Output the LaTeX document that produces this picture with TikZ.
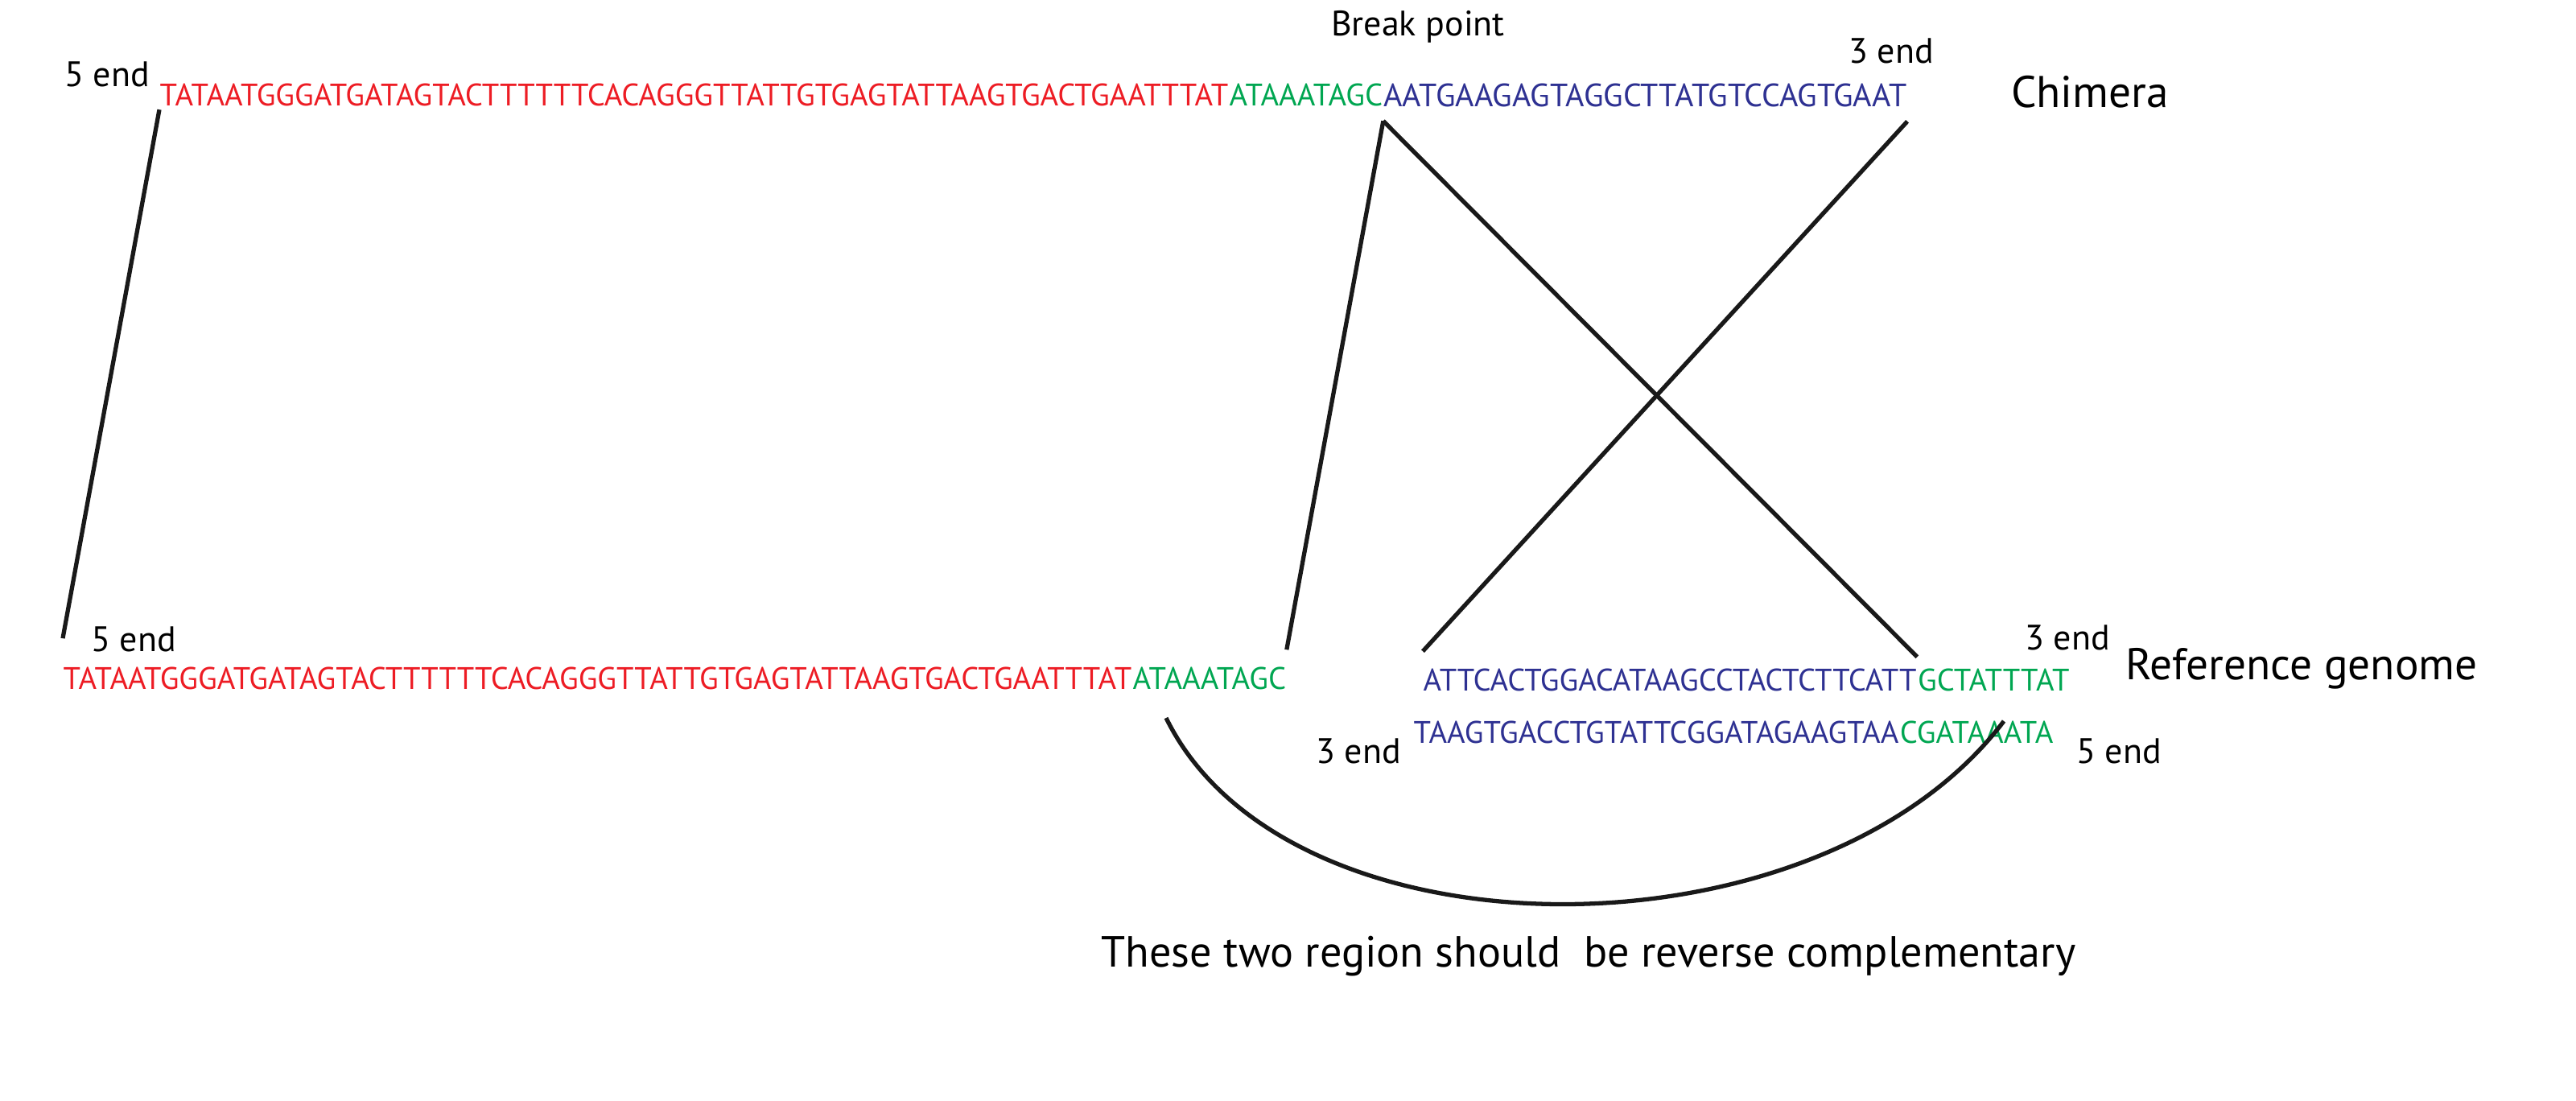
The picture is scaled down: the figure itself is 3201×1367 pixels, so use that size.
\documentclass[tikz,border=0pt]{standalone}
\usepackage{fontspec}
\setmainfont{PT Sans}
\usetikzlibrary{positioning}

\definecolor{seqred}{RGB}{237,28,36}
\definecolor{seqgreen}{RGB}{0,166,81}
\definecolor{seqblue}{RGB}{46,49,146}

\begin{document}
\begin{tikzpicture}[
        x=0.01cm, y=-0.01cm,
        seq/.style={inner sep=0pt, anchor=west, font=\fontsize{11}{13}\selectfont},
        endlbl/.style={inner sep=0pt, font=\fontsize{12.5}{14}\selectfont},
        title/.style={inner sep=0pt, font=\fontsize{15.7}{18}\selectfont},
        link/.style={line width=1.5pt, draw=black!90}
    ]
        \useasboundingbox (0,0) rectangle (3201,1367);
        % Chimera read
        \node[seq, text=seqred] (chimred) at (198,118) {TATAATGGGATGATAGTACTTTTTTCACAGGGTTATTGTGAGTATTAAGTGACTGAATTTAT};
        \node[seq, text=seqgreen, right=0pt of chimred] (chimgreen) {ATAAATAGC};
        \node[seq, text=seqblue, right=0pt of chimgreen, font=\fontsize{11.4}{13}\selectfont] (chimblue) {AATGAAGAGTAGGCTTATGTCCAGTGAAT};
        \node[endlbl] (chim5) at (133,92) {5 end};
        \node[endlbl] (chim3) at (2350,63) {3 end};
        \node[endlbl] (brk) at (1762,33) {Break point};
        \node[title] (chimtitle) at (2597,114) {Chimera};
        % Reference genome
        \node[seq, text=seqred] (refred) at (78,843) {TATAATGGGATGATAGTACTTTTTTCACAGGGTTATTGTGAGTATTAAGTGACTGAATTTAT};
        \node[seq, text=seqgreen, right=0pt of refred] (refgreen) {ATAAATAGC};
        \node[seq, text=seqblue] (fwdblue) at (1768,845) {ATTCACTGGACATAAGCCTACTCTTCATT};
        \node[seq, text=seqgreen, right=0pt of fwdblue] (fwdgreen) {GCTATTTAT};
        \node[seq, text=seqblue] (revblue) at (1756,910) {TAAGTGACCTGTATTCGGATAGAAGTAA};
        \node[seq, text=seqgreen, right=0pt of revblue] (revgreen) {CGATAAATA};
        \node[endlbl] (ref5) at (166,794) {5 end};
        \node[endlbl] (fwd3) at (2569,792) {3 end};
        \node[endlbl] (rev3) at (1688,933) {3 end};
        \node[endlbl] (rev5) at (2633,933) {5 end};
        \node[title] (reftitle) at (2860,831) {Reference genome};
        \node[title, font=\fontsize{15.4}{18}\selectfont] (note) at (1974,1188) {These two region should\ \ be reverse complementary};
        % Alignment lines
        \draw[link] ([yshift=-1pt]chimred.south west) -- ([yshift=10pt]refred.north west);
        \draw[link] ([yshift=-5pt]chimgreen.south east) -- ([yshift=6pt]refgreen.north east);
        \draw[link] ([yshift=-5pt]chimgreen.south east) -- ([yshift=4pt]fwdblue.north east);
        \draw[link] ([yshift=-5pt]chimblue.south east) -- ([yshift=6pt]fwdblue.north west);
        \coordinate (arcl) at (1449,892);
        \coordinate (arcr) at (2490,896);
        \draw[link] (arcl) .. controls (1600,1200) and (2260,1200) .. (arcr);
    \end{tikzpicture}
\end{document}
